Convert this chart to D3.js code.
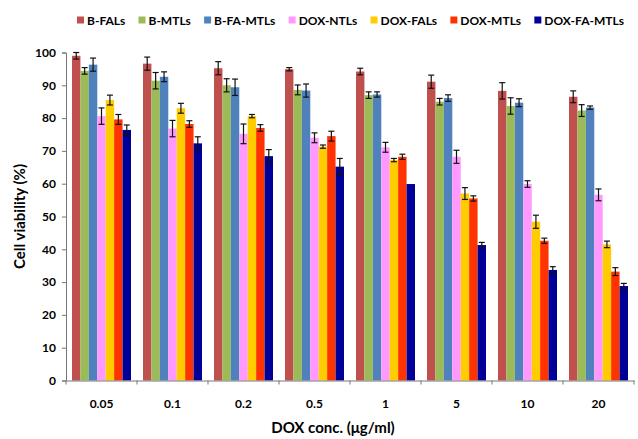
<!DOCTYPE html>
<html><head><meta charset="utf-8">
<script src="https://cdn.jsdelivr.net/npm/d3@7"></script>
<style>body{margin:0;background:#fff}svg{display:block}text{font-family:Lato,"Open Sans",sans-serif;font-weight:bold}</style>
</head><body><svg id="c" width="638" height="439"></svg>
<script>
const categories = ["0.05","0.1","0.2","0.5","1","5","10","20"];
const seriesNames = ["B-FALs","B-MTLs","B-FA-MTLs","DOX-NTLs","DOX-FALs","DOX-MTLs","DOX-FA-MTLs"];
const seriesColors = ["#C0504D","#9BBB59","#4F81BD","#FF99FF","#FFCC00","#FF3300","#000099"];
const bFALs      = [99.0, 96.6, 95.2, 94.9, 94.2, 91.1, 88.3, 86.5];
const bMTLs      = [94.4, 91.4, 90.0, 88.6, 87.0, 85.0, 83.7, 82.3];
const bFAMTLs    = [96.3, 92.6, 89.4, 88.4, 87.2, 86.1, 84.7, 83.2];
const doxNTLs    = [80.6, 76.8, 75.2, 74.0, 71.1, 68.2, 59.9, 56.6];
const doxFALs    = [85.5, 83.0, 80.6, 71.3, 67.2, 57.0, 48.4, 41.5];
const doxMTLs    = [79.6, 78.2, 77.0, 74.5, 68.2, 55.5, 42.6, 33.2];
const doxFAMTLs  = [76.4, 72.3, 68.4, 65.2, 59.9, 41.3, 33.7, 28.8];
const errBFALs     = [1.0, 2.0, 2.0, 0.5, 1.0, 2.0, 2.5, 1.8];
const errBMTLs     = [1.0, 2.5, 2.0, 1.5, 1.0, 1.0, 2.5, 1.8];
const errBFAMTLs   = [2.0, 1.5, 2.5, 2.0, 0.8, 1.0, 1.2, 0.5];
const errDoxNTLs   = [2.5, 2.5, 3.0, 1.5, 1.5, 2.0, 1.0, 1.8];
const errDoxFALs   = [1.5, 1.5, 0.5, 0.5, 0.5, 1.8, 2.0, 1.0];
const errDoxMTLs   = [1.5, 1.0, 1.0, 1.5, 0.8, 0.8, 0.8, 1.2];
const errDoxFAMTLs = [1.5, 2.0, 2.0, 2.5, 0.0, 0.8, 1.0, 0.8];
const yTicks = [0,10,20,30,40,50,60,70,80,90,100];

const values = [bFALs,bMTLs,bFAMTLs,doxNTLs,doxFALs,doxMTLs,doxFAMTLs];
const errors = [errBFALs,errBMTLs,errBFAMTLs,errDoxNTLs,errDoxFALs,errDoxMTLs,errDoxFAMTLs];

const svg = d3.select("#c");
const L = 66, R = 634, T = 52.5, B = 380.5;
const x0 = d3.scaleBand().domain(categories).range([L, R]).padding(0);
const x1 = d3.scaleBand().domain(seriesNames).range([6, x0.bandwidth() - 6]).padding(0);
const y = d3.scaleLinear().domain([0, 100]).range([B, T]);

// bars
const g = svg.append("g");
categories.forEach((c, ci) => {
  seriesNames.forEach((s, si) => {
    const v = values[si][ci];
    g.append("rect")
      .attr("x", x0(c) + x1(s))
      .attr("y", y(v))
      .attr("width", x1.bandwidth())
      .attr("height", y(0) - y(v))
      .attr("fill", seriesColors[si]);
  });
});
// error bars
categories.forEach((c, ci) => {
  seriesNames.forEach((s, si) => {
    const v = values[si][ci], e = errors[si][ci];
    if (e <= 0) return;
    const cx = x0(c) + x1(s) + x1.bandwidth() / 2;
    const eg = svg.append("g").attr("stroke", "#111").attr("stroke-width", 1.2);
    eg.append("line").attr("x1", cx).attr("x2", cx).attr("y1", y(v + e)).attr("y2", y(v - e));
    eg.append("line").attr("x1", cx - 3).attr("x2", cx + 3).attr("y1", y(v + e)).attr("y2", y(v + e));
    eg.append("line").attr("x1", cx - 3).attr("x2", cx + 3).attr("y1", y(v - e)).attr("y2", y(v - e));
  });
});

// y axis
const ya = svg.append("g").attr("transform", `translate(${L},0)`)
  .call(d3.axisLeft(y).tickValues(yTicks).tickSize(4).tickPadding(6));
ya.select(".domain").attr("stroke", "#777");
ya.selectAll(".tick line").attr("stroke", "#777");
ya.selectAll("text").attr("font-size", 12).attr("font-weight", "bold").attr("fill", "#000")
  .attr("font-family", "Lato, sans-serif");

// x axis
const xa = svg.append("g").attr("transform", `translate(0,${B})`)
  .call(d3.axisBottom(x0).tickSize(0).tickPadding(19));
xa.select(".domain").attr("stroke", "#777");
xa.selectAll("text").attr("font-size", 12).attr("font-weight", "bold").attr("fill", "#000")
  .attr("font-family", "Lato, sans-serif");
const bounds = categories.map(c => x0(c)).concat([x0(categories[categories.length - 1]) + x0.bandwidth()]);
svg.append("g").selectAll("line").data(bounds).join("line")
  .attr("x1", d => d).attr("x2", d => d).attr("y1", B).attr("y2", B + 4).attr("stroke", "#777");

// axis titles
svg.append("text").attr("transform", `translate(25,${(T + B) / 2}) rotate(-90)`)
  .attr("text-anchor", "middle").attr("font-size", 15).text("Cell viability (%)");
svg.append("text").attr("x", 333).attr("y", 433).attr("text-anchor", "middle")
  .attr("font-size", 15).text("DOX conc. (μg/ml)");

// legend: fit between left and right edges
const legL = 77, legR = 624, sq = 7, sqGap = 3;
const lg = svg.append("g");
const items = seriesNames.map((s, i) => {
  const gi = lg.append("g");
  gi.append("rect").attr("y", 16.5).attr("width", sq).attr("height", sq).attr("fill", seriesColors[i]);
  const t = gi.append("text").attr("x", sq + sqGap).attr("y", 24.5).attr("font-size", 12).text(s);
  return {gi, w: sq + sqGap + t.node().getComputedTextLength()};
});
const totalW = d3.sum(items, d => d.w);
const gap = (legR - legL - totalW) / (items.length - 1);
let cx = legL;
items.forEach(d => { d.gi.attr("transform", `translate(${cx},0)`); cx += d.w + gap; });
</script></body></html>
